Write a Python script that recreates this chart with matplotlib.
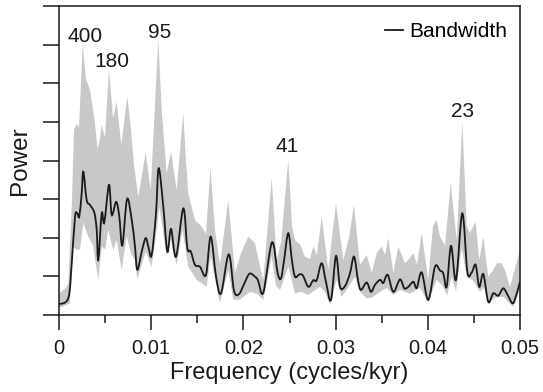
import numpy as np
import matplotlib
matplotlib.use("Agg")
import matplotlib.pyplot as plt
from matplotlib.path import Path
from matplotlib.patches import PathPatch

plt.rcParams['font.family'] = ['Liberation Sans', 'DejaVu Sans']

# Bandwidth-smoothed spectrum (black line), frequency in 1e-3 cycles/kyr
line_f = [0.0, 1.01, 1.38, 1.74, 1.98, 2.20, 2.46, 2.64, 3.00, 3.36, 3.83, 4.09, 4.26,
          4.63, 4.91, 5.42, 5.72, 6.20, 6.54, 6.87, 7.38, 7.89, 8.24, 8.49, 8.97, 9.40,
          9.71, 10.05, 10.52, 10.81, 11.31, 11.75, 12.15, 12.69, 13.48, 13.92, 14.28,
          14.75, 15.29, 15.94, 16.45, 17.03, 17.57, 18.41, 18.98, 19.52, 20.07, 20.66,
          21.26, 21.58, 22.16, 23.10, 23.72, 24.08, 24.40, 24.87, 25.27, 25.60, 26.06,
          26.46, 27.04, 27.58, 27.95, 28.49, 28.96, 29.50, 30.04, 30.48, 31.02, 31.56,
          32.00, 32.43, 32.75, 33.37, 33.84, 34.27, 34.82, 35.17, 35.65, 36.26, 36.98,
          37.45, 37.89, 38.43, 38.80, 39.34, 40.05, 40.78, 41.32, 41.68, 42.05, 42.52,
          43.06, 43.74, 44.29, 44.76, 45.19, 45.58, 46.02, 46.56, 47.10, 47.64, 48.19,
          48.70, 49.21, 49.57, 50.0]
line_p = [0.28, 0.44, 1.34, 2.55, 2.63, 2.55, 3.15, 3.71, 2.98, 2.85, 2.65, 2.2, 1.42,
          2.63, 2.39, 3.37, 2.59, 2.93, 2.55, 1.8, 3.0, 2.46, 1.77, 1.17, 1.64, 1.99,
          1.75, 1.55, 2.63, 3.8, 2.81, 1.64, 2.23, 1.51, 2.76, 1.73, 1.65,
          1.3, 1.25, 1.04, 2.03, 1.0, 0.56, 1.57, 0.63, 0.54, 0.8, 1.07,
          0.99, 0.9, 0.58, 1.88, 1.08, 0.95, 1.4, 2.12, 1.4, 0.99, 1.05,
          1.02, 0.73, 0.9, 0.9, 1.34, 0.85, 0.39, 1.53, 0.73, 0.75, 1.08,
          1.51, 0.9, 0.65, 0.84, 0.6, 0.78, 0.91, 0.83, 1.04, 0.6, 0.92,
          0.69, 0.73, 0.86, 0.7, 1.1, 0.39, 1.25, 1.15, 1.08, 0.73, 1.79,
          0.91, 2.63, 1.12, 1.1, 1.3, 0.73, 1.06, 0.34, 0.56, 0.5, 0.69,
          0.5, 0.3, 0.5, 0.86]

# upper edge of the grey band
upper_f = [0.0, 0.76, 1.01, 1.41, 1.63, 1.95, 2.17, 2.57, 2.93, 3.36, 3.90, 4.18, 4.39,
           4.63, 4.99, 5.42, 5.86, 6.26, 6.76, 7.41, 7.81, 8.13, 8.60, 9.40, 9.95, 10.76,
           11.17, 11.68, 12.15, 12.76, 13.48, 13.77, 14.02, 14.75, 15.48, 15.94, 16.43,
           16.92, 17.46, 18.36, 19.09, 19.74, 20.53, 21.26, 21.80, 22.16, 23.07, 23.61,
           24.08, 24.87, 25.27, 25.60, 26.14, 26.68, 27.22, 27.58, 27.98, 28.49, 29.21,
           30.04, 30.84, 31.45, 32.00, 32.65, 33.37, 33.92, 34.46, 35.01, 35.36, 35.72,
           36.26, 36.80, 37.53, 37.96, 38.43, 38.83, 39.34, 40.05, 40.56, 40.96, 41.32,
           41.87, 42.48, 43.14, 43.74, 44.22, 44.58, 45.19, 45.58, 46.02, 46.56, 47.10,
           47.51, 48.01, 48.37, 48.92, 49.46, 50.0]
upper_p = [0.56, 0.7, 0.82, 3.0, 4.8, 4.95, 4.85, 7.0, 6.1, 5.83, 4.97, 4.3, 4.5,
           4.92, 4.6, 6.37, 5.1, 5.52, 4.4, 5.66, 4.8, 3.9, 3.06, 4.2, 3.24, 7.12,
           5.2, 3.67, 4.23, 3.24, 5.23, 4.0, 3.15, 2.46, 2.29, 2.1, 3.8,
           2.2, 1.3, 2.98, 1.09, 1.6, 2.03, 1.86, 1.25, 0.91, 3.54, 1.42,
           1.87, 4.02, 2.3, 1.94, 1.83, 1.51, 1.45, 1.77, 1.55, 2.55, 1.17,
           2.89, 1.42, 2.0, 2.85, 1.3, 1.55, 1.09, 1.6, 1.77, 1.55, 1.99,
           1.09, 1.77, 1.34, 1.45, 1.6, 1.3, 2.12, 0.91, 2.3, 2.46, 2.03,
           1.8, 3.41, 1.94, 5.01, 2.29, 2.12, 2.42, 1.42, 2.03, 0.99, 1.17,
           1.34, 1.34, 1.17, 0.73, 1.2, 1.68]

# lower edge of the grey band
lower_f = [0.0, 0.43, 1.19, 1.55, 1.92, 2.28, 2.64, 3.18, 3.69, 4.26, 4.63, 4.99, 5.35,
           5.89, 6.26, 6.80, 7.34, 7.81, 8.24, 8.49, 9.40, 10.05, 10.60, 10.88, 11.68,
           12.11, 12.76, 13.40, 14.02, 14.93, 16.02, 16.45, 17.46, 18.36, 18.90, 19.63,
           20.72, 21.48, 22.16, 23.07, 23.54, 23.97, 24.87, 25.60, 26.25, 27.04, 28.31,
           28.85, 29.39, 30.12, 30.66, 31.34, 32.10, 32.65, 33.37, 33.95, 34.82, 35.57,
           36.26, 36.98, 38.07, 39.15, 40.05, 40.96, 41.65, 42.08, 42.59, 43.06, 43.67,
           44.22, 44.90, 45.66, 46.10, 46.56, 47.29, 48.19, 48.70, 49.27, 50.0]
lower_p = [0.19, 0.22, 0.3, 1.77, 1.68, 1.7, 2.38, 2.03, 1.8, 0.91, 1.77, 1.7, 2.2,
           1.68, 1.94, 1.17, 2.03, 1.6, 1.42, 0.91, 1.64, 1.25, 2.2, 2.81, 1.51,
           1.94, 1.3, 2.2, 1.25, 0.91, 0.73, 1.51, 0.3, 1.17, 0.39, 0.4,
           0.6, 0.55, 0.39, 1.51, 0.75, 0.65, 1.25, 0.56, 0.6, 0.52, 0.73,
           0.6, 0.26, 0.91, 0.47, 0.7, 0.99, 0.6, 0.43, 0.45, 0.6, 0.7,
           0.52, 0.65, 0.55, 0.7, 0.34, 0.91, 0.75, 0.5, 0.99, 0.6, 1.73,
           0.99, 0.9, 0.6, 0.7, 0.3, 0.45, 0.47, 0.35, 0.21, 0.65]

# peak labels (period in kyr) and where they sit
peak_labels = ['400', '180', '95', '41', '23']
label_f = [2.82, 5.72, 10.95, 24.78, 43.76]
label_p = [7.07, 6.42, 7.18, 4.22, 5.13]

line_f = np.array(line_f) / 1000
upper_f = np.array(upper_f) / 1000
lower_f = np.array(lower_f) / 1000
label_f = np.array(label_f) / 1000


# smooth curve through the points (Catmull-Rom as cubic bezier segments)
def smooth_path(x, y):
    pts = np.column_stack([x, y])
    ext = np.vstack([pts[0], pts, pts[-1]])
    verts = [pts[0]]
    codes = [Path.MOVETO]
    for i in range(1, len(ext) - 2):
        p0, p1, p2, p3 = ext[i - 1], ext[i], ext[i + 1], ext[i + 2]
        verts += [p1 + (p2 - p0) / 6, p2 - (p3 - p1) / 6, p2]
        codes += [Path.CURVE4] * 3
    return Path(verts, codes)


ink = '#1a1a1a'
fig = plt.figure(figsize=(5.43, 3.92), dpi=100)
ax = fig.add_axes([59 / 543, 77 / 392, 461 / 543, 309 / 392])

# grey band as one polygon: upper edge left->right, lower edge right->left
band_x = np.concatenate([upper_f, lower_f[::-1]])
band_y = np.concatenate([upper_p, lower_p[::-1]])
ax.fill(band_x, band_y, color='#c8c8c8', lw=0, zorder=1)

ax.add_patch(PathPatch(smooth_path(line_f, line_p), facecolor='none',
                       edgecolor=ink, lw=1.3, capstyle='round', zorder=2))
ax.plot([], [], color=ink, lw=1.3, label='Bandwidth')

for txt, f, p in zip(peak_labels, label_f, label_p):
    ax.text(f, p, txt, ha='center', va='baseline', fontsize=15, color=ink)

ax.set_xlim(0, 0.05)
ax.set_ylim(0, 8)
ax.set_xticks(np.arange(0, 0.051, 0.01))
ax.set_xticklabels(['0', '0.01', '0.02', '0.03', '0.04', '0.05'])
ax.set_xticks(np.arange(0.005, 0.05, 0.01), minor=True)
ax.set_yticks(np.arange(0, 9, 1))
ax.set_yticklabels([])

ax.tick_params(axis='x', which='major', direction='out', length=11, width=1.1,
               labelsize=14.5, pad=6, color=ink, labelcolor=ink)
ax.tick_params(axis='x', which='minor', direction='out', length=6, width=1.1,
               color=ink)
ax.tick_params(axis='y', which='major', direction='out', length=11.5, width=1.1,
               color=ink)
for s in ax.spines.values():
    s.set_linewidth(1.1)
    s.set_color(ink)

ax.set_xlabel('Frequency (cycles/kyr)', fontsize=17, color=ink)
ax.xaxis.set_label_coords(0.5, -0.152)
ax.set_ylabel('Power', fontsize=17.5, color=ink)
ax.yaxis.set_label_coords(-0.061, 0.5)

ax.legend(loc='upper right', bbox_to_anchor=(0.972, 0.948), frameon=False,
          fontsize=15, handlelength=0.87, handletextpad=0.3, borderpad=0,
          borderaxespad=0)

fig.savefig('out.png', dpi=100)
